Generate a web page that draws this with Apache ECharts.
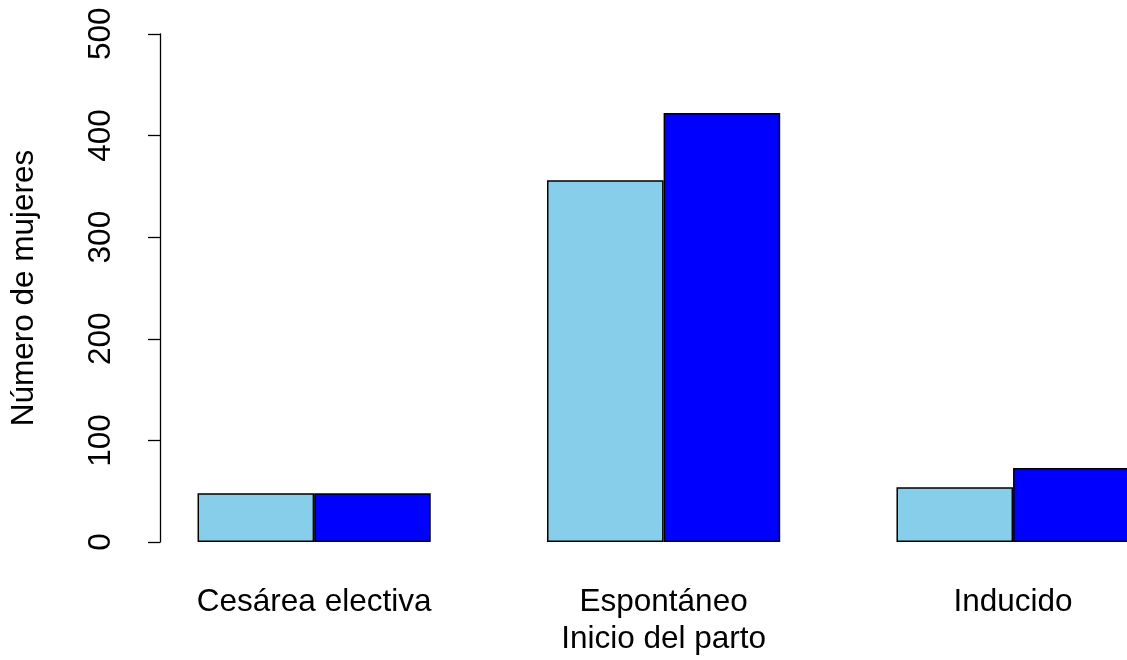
<!DOCTYPE html>
<html><head><meta charset="utf-8">
<script src="https://cdn.jsdelivr.net/npm/echarts@6/dist/echarts.min.js"></script>
<style>html,body{margin:0;padding:0;background:#fff;overflow:hidden}#c{width:1127px;height:660px;overflow:hidden;position:absolute;left:0;top:0}</style>
</head><body><div id="c"></div>
<script>
const categories = ['Cesárea electiva', 'Espontáneo', 'Inducido'];
const seriesA = [48, 356, 54];
const seriesB = [48, 422, 73];
const yTicks = [0, 100, 200, 300, 400, 500];

const chart = echarts.init(document.getElementById('c'), null, { width: 1200, height: 660 });
const font = 'Liberation Sans, Arial, sans-serif';
chart.setOption({
  animation: false,
  grid: { left: 138.4, top: 33.8, right: 12.2, bottom: 116.5, containLabel: false },
  xAxis: {
    type: 'category', data: categories,
    axisLine: { show: false }, axisTick: { show: false },
    axisLabel: { color: '#000', fontSize: 31.5, fontFamily: font, margin: 44 },
    name: 'Inicio del parto', nameLocation: 'middle', nameGap: 69,
    nameTextStyle: { color: '#000', fontSize: 31.5, fontFamily: font }
  },
  yAxis: {
    type: 'value', min: yTicks[0], max: yTicks[yTicks.length - 1], interval: 100,
    offset: -20.6,
    splitLine: { show: false },
    axisLine: { show: true, lineStyle: { color: '#000', width: 1.3 } },
    axisTick: { show: true, length: 12, lineStyle: { color: '#000', width: 1.3 } },
    axisLabel: { color: '#000', fontSize: 31.5, fontFamily: font, rotate: 90, margin: 43 },
    name: 'Número de mujeres', nameLocation: 'middle', nameGap: 120,
    nameTextStyle: { color: '#000', fontSize: 31.5, fontFamily: font }
  },
  series: [
    { type: 'bar', data: seriesA, barWidth: 116.6, barGap: '0%',
      itemStyle: { color: '#87CEEB', borderColor: '#000', borderWidth: 1.5 } },
    { type: 'bar', data: seriesB, barWidth: 116.6, barGap: '0%',
      itemStyle: { color: '#0000FF', borderColor: '#000', borderWidth: 1.5 } }
  ]
});
</script></body></html>
